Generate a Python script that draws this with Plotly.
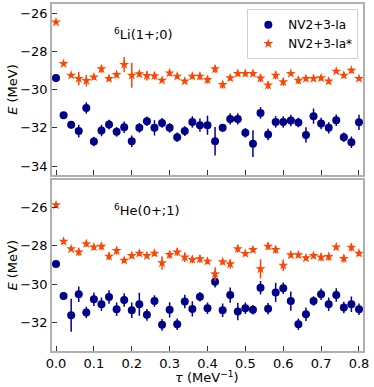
import plotly.graph_objects as go
from plotly.subplots import make_subplots

tau = [round(0.02 * i, 2) for i in range(41)]

# 6Li(1+;0)
li_ia = [-29.39, -31.34, -31.84, -32.17, -30.96, -32.71, -32.14, -31.83, -32.21, -31.97,
         -32.70, -32.00, -31.65, -32.00, -31.74, -32.00, -32.49, -32.17, -31.69, -31.86,
         -31.86, -32.70, -32.00, -31.53, -31.53, -32.26, -32.83, -31.22, -32.35, -31.69,
         -31.69, -31.62, -31.72, -32.37, -31.39, -31.77, -32.00, -31.60, -32.49, -32.75, -31.71]
li_ia_err = [0.08, 0.15, 0.2, 0.33, 0.3, 0.25, 0.3, 0.25, 0.25, 0.3,
             0.3, 0.25, 0.25, 0.4, 0.25, 0.25, 0.25, 0.25, 0.3, 0.35,
             0.5, 0.74, 0.2, 0.3, 0.3, 0.25, 0.7, 0.3, 0.3, 0.3,
             0.3, 0.3, 0.25, 0.4, 0.4, 0.3, 0.3, 0.3, 0.25, 0.3, 0.4]
li_ias = [-26.47, -28.64, -29.25, -29.42, -29.53, -29.34, -28.92, -29.42, -29.22, -28.69,
          -29.25, -29.18, -29.27, -29.28, -29.51, -29.13, -29.30, -29.56, -29.30, -29.30,
          -29.48, -28.92, -29.74, -29.39, -29.16, -29.16, -29.16, -29.40, -29.77, -29.25,
          -29.60, -29.16, -29.51, -29.42, -29.42, -29.39, -29.56, -29.04, -29.25, -28.99, -29.42]
li_ias_err = [0.05, 0.08, 0.1, 0.35, 0.3, 0.15, 0.2, 0.15, 0.15, 0.4,
              0.65, 0.15, 0.25, 0.2, 0.1, 0.15, 0.15, 0.1, 0.15, 0.2,
              0.2, 0.2, 0.2, 0.15, 0.15, 0.15, 0.15, 0.2, 0.2, 0.2,
              0.2, 0.1, 0.2, 0.15, 0.15, 0.15, 0.15, 0.1, 0.15, 0.15, 0.1]

# 6He(0+;1)
he_ia = [-28.95, -30.62, -31.62, -30.53, -31.48, -30.79, -31.05, -30.67, -31.31, -30.83,
         -31.36, -31.05, -31.60, -30.88, -32.12, -31.34, -32.09, -30.90, -31.29, -30.66,
         -31.26, -29.88, -31.36, -30.57, -31.43, -31.26, -31.33, -30.19, -31.28, -30.43,
         -30.21, -30.88, -32.09, -31.57, -30.88, -30.53, -31.05, -30.57, -31.22, -31.05, -31.31]
he_ia_err = [0.05, 0.2, 0.86, 0.4, 0.3, 0.35, 0.35, 0.35, 0.35, 0.35,
             0.4, 0.6, 0.3, 0.3, 0.3, 0.4, 0.3, 0.35, 0.4, 0.25,
             0.3, 0.3, 0.35, 0.4, 0.45, 0.3, 0.25, 0.35, 0.3, 0.5,
             0.3, 0.5, 0.3, 0.35, 0.25, 0.3, 0.35, 0.35, 0.3, 0.4, 0.3]
he_ias = [-25.88, -27.78, -28.17, -28.33, -27.90, -28.07, -28.03, -28.55, -28.26, -28.76,
          -28.52, -28.40, -28.52, -28.40, -28.90, -28.47, -28.33, -28.60, -28.72, -28.69,
          -28.81, -29.47, -28.84, -28.95, -28.16, -28.41, -28.21, -29.21, -28.03, -28.21,
          -29.02, -28.48, -28.48, -28.64, -28.52, -28.60, -28.57, -28.07, -28.67, -28.09, -28.40]
he_ias_err = [0.05, 0.1, 0.1, 0.2, 0.15, 0.15, 0.2, 0.2, 0.2, 0.15,
              0.15, 0.15, 0.15, 0.15, 0.35, 0.2, 0.2, 0.25, 0.2, 0.2,
              0.15, 0.35, 0.15, 0.25, 0.2, 0.15, 0.15, 0.5, 0.2, 0.2,
              0.3, 0.15, 0.15, 0.15, 0.15, 0.2, 0.2, 0.15, 0.2, 0.2, 0.15]

x_ticks = [0.0, 0.1, 0.2, 0.3, 0.4, 0.5, 0.6, 0.7, 0.8]
x_tick_labels = ["0.0", "0.1", "0.2", "0.3", "0.4", "0.5", "0.6", "0.7", "0.8"]
y_ticks_top = [-26, -28, -30, -32, -34]
y_ticks_bot = [-26, -28, -30, -32]

BLUE = "#00008B"
ORANGE = "#FF4500"
FONT = "DejaVu Sans"

fig = make_subplots(rows=2, cols=1, shared_xaxes=True)

def add_pair(row, ia, ia_err, ias, ias_err, show):
    fig.add_trace(go.Scatter(
        x=tau, y=ia, mode="markers", name="NV2+3-Ia", showlegend=show,
        marker=dict(symbol="circle", size=8, color=BLUE),
        error_y=dict(type="data", array=ia_err, color=BLUE, thickness=1.5, width=0),
    ), row=row, col=1)
    fig.add_trace(go.Scatter(
        x=tau, y=ias, mode="markers", name="NV2+3-Ia*", showlegend=show,
        marker=dict(symbol="star", size=7.5, color=ORANGE, line=dict(width=0)),
        error_y=dict(type="data", array=ias_err, color=ORANGE, thickness=1.5, width=0),
    ), row=row, col=1)

add_pair(1, li_ia, li_ia_err, li_ias, li_ias_err, True)
add_pair(2, he_ia, he_ia_err, he_ias, he_ias_err, False)

axis_common = dict(
    showline=True, linecolor="#b0b0b0", linewidth=1.5, mirror=True,
    ticks="inside", ticklen=5, tickwidth=1, tickcolor="#333333",
    showgrid=False, zeroline=False,
    tickfont=dict(family=FONT, size=13, color="black"),
)

fig.update_xaxes(**axis_common)
fig.update_yaxes(**axis_common)

fig.update_layout(
    width=374, height=387,
    margin=dict(l=52, r=11, t=2, b=36),
    plot_bgcolor="white", paper_bgcolor="white",
    font=dict(family=FONT, size=13, color="black"),
    hovermode=False,
    xaxis=dict(domain=[0, 1], range=[-0.0106, 0.8106], tickvals=x_ticks, showticklabels=False),
    xaxis2=dict(domain=[0, 1], range=[-0.0106, 0.8106], tickvals=x_ticks,
                ticktext=x_tick_labels, showticklabels=True, automargin=False),
    yaxis=dict(domain=[0.507, 1.0], range=[-34.47, -25.52], tickvals=y_ticks_top,
               ticktext=["−26", "−28", "−30", "−32", "−34"], automargin=False,
               title=dict(text="<i>E</i> (MeV)", standoff=0, font=dict(family=FONT, size=13))),
    yaxis2=dict(domain=[0.0, 0.494], range=[-33.48, -24.56], tickvals=y_ticks_bot,
                ticktext=["−26", "−28", "−30", "−32"], automargin=False,
                title=dict(text="<i>E</i> (MeV)", standoff=0, font=dict(family=FONT, size=13))),
    legend=dict(
        x=0.985, y=0.985, xanchor="right", yanchor="top",
        bgcolor="white", bordercolor="#d0d0d0", borderwidth=1,
        font=dict(family=FONT, size=12, color="black"),
        itemwidth=30, tracegroupgap=0,
    ),
    annotations=[
        dict(text="<sup>6</sup>Li(1+;0)", xref="paper", yref="paper",
             x=(143.5 - 52) / 311, y=(351 - 32) / 349, xanchor="center", yanchor="middle",
             showarrow=False, font=dict(family=FONT, size=13, color="black")),
        dict(text="<sup>6</sup>He(0+;1)", xref="paper", yref="paper",
             x=(147 - 52) / 311, y=(351 - 209) / 349, xanchor="center", yanchor="middle",
             showarrow=False, font=dict(family=FONT, size=13, color="black")),
        dict(text="<i>τ</i> (MeV<sup>−1</sup>)", xref="paper", yref="paper",
             x=(207 - 52) / 311, y=(351 - 377.5) / 349, xanchor="center", yanchor="middle",
             showarrow=False, font=dict(family=FONT, size=13, color="black")),
    ],
)

fig.write_html("out.html", config={"displayModeBar": False},
               post_script="document.body.style.margin='0';document.body.style.overflow='hidden';")
